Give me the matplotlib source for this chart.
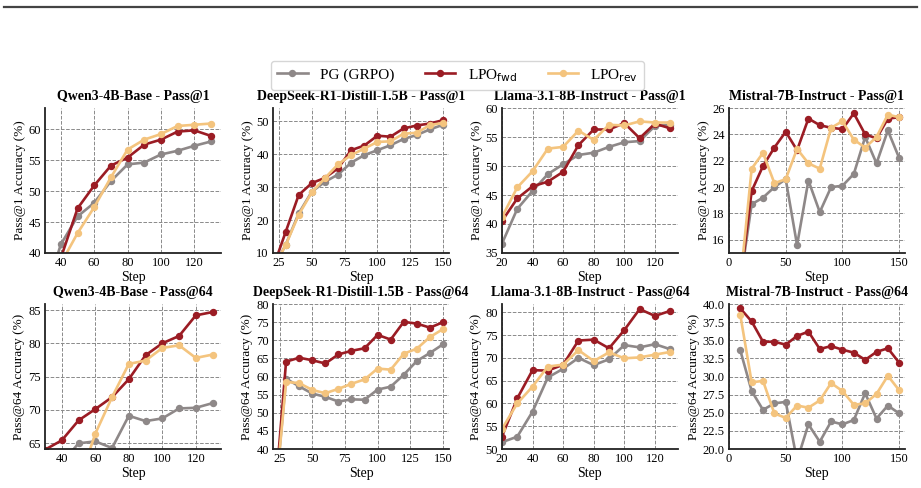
import numpy as np
import matplotlib.pyplot as plt
from matplotlib.lines import Line2D

plt.rcParams['font.family'] = ['Liberation Serif', 'DejaVu Serif']
plt.rcParams['mathtext.fontset'] = 'dejavusans'

# colours of the three methods
c_pg = '#8e8888'
c_fwd = '#9b1c24'
c_rev = '#f4c47e'

# ---- Qwen3-4B-Base ----
qwen_steps = [30, 40, 50, 60, 70, 80, 90, 100, 110, 120, 130]
qwen_p1_pg = [33.0, 41.4, 45.9, 48.1, 51.6, 54.3, 54.6, 55.9, 56.5, 57.3, 58.0]
qwen_p1_fwd = [33.0, 39.2, 47.2, 50.9, 54.1, 55.4, 57.5, 58.3, 59.6, 59.8, 58.9]
qwen_p1_rev = [33.0, 38.3, 43.2, 47.4, 52.2, 56.7, 58.3, 59.2, 60.5, 60.7, 60.9]
qwen_p64_pg = [60.0, 62.0, 64.95, 65.25, 64.25, 69.1, 68.3, 68.7, 70.2, 70.3, 71.0]
qwen_p64_fwd = [64.0, 65.4, 68.4, 70.1, 71.9, 74.6, 78.2, 80.0, 81.1, 84.2, 84.7]
qwen_p64_rev = [52.0, 56.0, 59.0, 66.4, 71.9, 76.9, 77.4, 79.3, 79.7, 77.8, 78.3]

# ---- DeepSeek-R1-Distill-1.5B ----
ds_steps = [20, 30, 40, 50, 60, 70, 80, 90, 100, 110, 120, 130, 140, 150]
ds_p1_pg = [5.0, 12.4, 22.0, 28.6, 31.6, 33.8, 37.4, 39.7, 41.2, 42.7, 44.6, 45.8, 47.5, 48.9]
ds_p1_fwd = [5.0, 16.3, 27.6, 31.2, 32.8, 35.7, 41.2, 42.6, 45.6, 45.3, 47.8, 48.7, 49.3, 50.3]
ds_p1_rev = [5.0, 12.3, 21.6, 28.4, 32.7, 36.9, 39.7, 41.7, 43.7, 43.9, 46.2, 46.5, 48.8, 49.5]
ds_p64_pg = [20.0, 59.4, 57.3, 55.3, 54.4, 53.1, 53.7, 53.6, 56.4, 57.2, 60.5, 64.3, 66.5, 68.9]
ds_p64_fwd = [20.0, 64.1, 65.2, 64.5, 63.6, 66.1, 67.1, 67.8, 71.5, 70.2, 75.1, 74.6, 73.5, 75.0]
ds_p64_rev = [20.0, 58.5, 58.2, 56.3, 55.4, 56.6, 58.0, 59.2, 62.2, 61.9, 66.3, 67.7, 70.9, 73.1]

# ---- Llama-3.1-8B-Instruct ----
ll_steps = [20, 30, 40, 50, 60, 70, 80, 90, 100, 110, 120, 130]
ll_p1_pg = [36.6, 42.6, 45.7, 48.6, 50.3, 51.9, 52.3, 53.3, 54.1, 54.3, 56.9, 57.1]
ll_p1_fwd = [40.5, 44.4, 46.5, 47.3, 49.0, 53.6, 56.3, 56.3, 57.4, 54.8, 57.3, 56.5]
ll_p1_rev = [41.2, 46.3, 49.1, 53.0, 53.3, 56.1, 54.5, 57.1, 57.0, 57.7, 57.5, 57.5]
ll_p64_pg = [51.5, 52.7, 58.2, 65.7, 67.6, 70.0, 68.4, 69.7, 72.8, 72.3, 73.0, 71.9]
ll_p64_fwd = [52.7, 61.1, 67.3, 67.2, 68.5, 73.8, 74.0, 72.1, 76.1, 80.7, 79.2, 80.3]
ll_p64_rev = [54.4, 60.0, 63.7, 68.1, 68.5, 71.7, 69.3, 71.2, 69.9, 70.1, 70.7, 71.3]

# ---- Mistral-7B-Instruct ----
mi_steps = [10, 20, 30, 40, 50, 60, 70, 80, 90, 100, 110, 120, 130, 140, 150]
mi_p1_pg = [12.8, 18.7, 19.2, 20.0, 20.6, 15.6, 20.5, 18.1, 20.0, 20.1, 21.0, 23.8, 21.8, 24.3, 22.2]
mi_p1_fwd = [12.8, 19.7, 21.6, 23.0, 24.2, 22.8, 25.2, 24.7, 24.5, 24.4, 25.6, 24.0, 23.7, 25.2, 25.3]
mi_p1_rev = [12.8, 21.4, 22.6, 20.3, 20.6, 22.9, 21.8, 21.4, 24.5, 25.0, 23.6, 23.0, 23.8, 25.5, 25.3]
mi_p64_pg = [33.6, 28.0, 25.4, 26.3, 26.5, 18.4, 23.4, 21.0, 23.8, 23.4, 24.0, 27.7, 24.2, 26.0, 24.9]
mi_p64_fwd = [39.4, 37.6, 34.8, 34.8, 34.4, 35.6, 36.2, 33.8, 34.2, 33.7, 33.3, 32.3, 33.4, 33.9, 31.9]
mi_p64_rev = [38.5, 29.2, 29.4, 24.9, 24.3, 26.0, 25.7, 26.7, 29.1, 28.0, 26.1, 26.3, 27.6, 30.1, 28.1]

panels = [
    ('Qwen3-4B-Base - Pass@1', 'Pass@1 Accuracy (%)', qwen_steps, qwen_p1_pg, qwen_p1_fwd, qwen_p1_rev,
     (30.5, 136), (40, 63.4), np.arange(40, 121, 20), np.arange(40, 61, 5)),
    ('DeepSeek-R1-Distill-1.5B - Pass@1', 'Pass@1 Accuracy (%)', ds_steps, ds_p1_pg, ds_p1_fwd, ds_p1_rev,
     (20.4, 154.6), (10, 54), np.arange(25, 151, 25), np.arange(10, 51, 10)),
    ('Llama-3.1-8B-Instruct - Pass@1', 'Pass@1 Accuracy (%)', ll_steps, ll_p1_pg, ll_p1_fwd, ll_p1_rev,
     (20, 135), (35, 60), np.arange(20, 121, 20), np.arange(35, 61, 5)),
    ('Mistral-7B-Instruct - Pass@1', 'Pass@1 Accuracy (%)', mi_steps, mi_p1_pg, mi_p1_fwd, mi_p1_rev,
     (0, 155), (15, 26), np.arange(0, 151, 50), np.arange(16, 27, 2)),
    ('Qwen3-4B-Base - Pass@64', 'Pass@64 Accuracy (%)', qwen_steps, qwen_p64_pg, qwen_p64_fwd, qwen_p64_rev,
     (30, 135), (64.1, 85.9), np.arange(40, 121, 20), np.arange(65, 86, 5)),
    ('DeepSeek-R1-Distill-1.5B - Pass@64', 'Pass@64 Accuracy (%)', ds_steps, ds_p64_pg, ds_p64_fwd, ds_p64_rev,
     (20, 154.5), (40, 80), np.arange(25, 151, 25), np.arange(40, 81, 5)),
    ('Llama-3.1-8B-Instruct - Pass@64', 'Pass@64 Accuracy (%)', ll_steps, ll_p64_pg, ll_p64_fwd, ll_p64_rev,
     (20, 135), (50, 81.8), np.arange(20, 121, 20), np.arange(50, 81, 5)),
    ('Mistral-7B-Instruct - Pass@64', 'Pass@64 Accuracy (%)', mi_steps, mi_p64_pg, mi_p64_fwd, mi_p64_rev,
     (0, 155), (20, 40), np.arange(0, 151, 50), np.arange(20, 40.1, 2.5)),
]

fig = plt.figure(figsize=(9.21, 4.88), dpi=100)

lefts = [0.0489, 0.2964, 0.545, 0.7915]
bottoms = [0.4816, 0.0799]
w, h = 0.191, 0.297

for i, (title, ylab, x, pg, fwd, rev, xl, yl, xt, yt) in enumerate(panels):
    ax = fig.add_axes([lefts[i % 4], bottoms[i // 4], w, h])
    ax.plot(x, pg, color=c_pg, lw=1.9, marker='o', ms=4.3)
    ax.plot(x, fwd, color=c_fwd, lw=1.9, marker='o', ms=4.3)
    ax.plot(x, rev, color=c_rev, lw=1.9, marker='o', ms=4.3)
    ax.set_xlim(*xl)
    ax.set_ylim(*yl)
    ax.set_xticks(xt)
    ax.set_yticks(yt)
    if i == 7:
        ax.set_yticklabels([f'{v:.1f}' for v in yt])
    ax.set_title(title, fontsize=10, fontweight='bold', pad=6)
    ax.set_xlabel('Step', fontsize=10, labelpad=1)
    ax.set_ylabel(ylab, fontsize=9.5, labelpad=2)
    ax.tick_params(labelsize=9, length=0, pad=3)
    ax.grid(True, color='#8a8a8a', ls='--', lw=0.7)
    for s in ['top', 'right']:
        ax.spines[s].set_visible(False)
    for s in ['left', 'bottom']:
        ax.spines[s].set_color('#222222')
        ax.spines[s].set_linewidth(1.3)
    ax.set_axisbelow(True)

handles = [
    Line2D([], [], color=c_pg, lw=1.9, marker='o', ms=4.3),
    Line2D([], [], color=c_fwd, lw=1.9, marker='o', ms=4.3),
    Line2D([], [], color=c_rev, lw=1.9, marker='o', ms=4.3),
]
labels = ['PG (GRPO)', 'LPO$_{\\mathrm{fwd}}$', 'LPO$_{\\mathrm{rev}}$']
fig.legend(handles, labels, loc='center', bbox_to_anchor=(0.497, 0.846), ncol=3,
           fontsize=11, frameon=True, edgecolor='#cccccc', handlelength=2.0,
           columnspacing=2.0, borderpad=0.4)

# rule across the top of the page
fig.add_artist(Line2D([0.004, 0.996], [0.986, 0.986], color='#444444', lw=1.6))

fig.savefig('out.png', dpi=100)
